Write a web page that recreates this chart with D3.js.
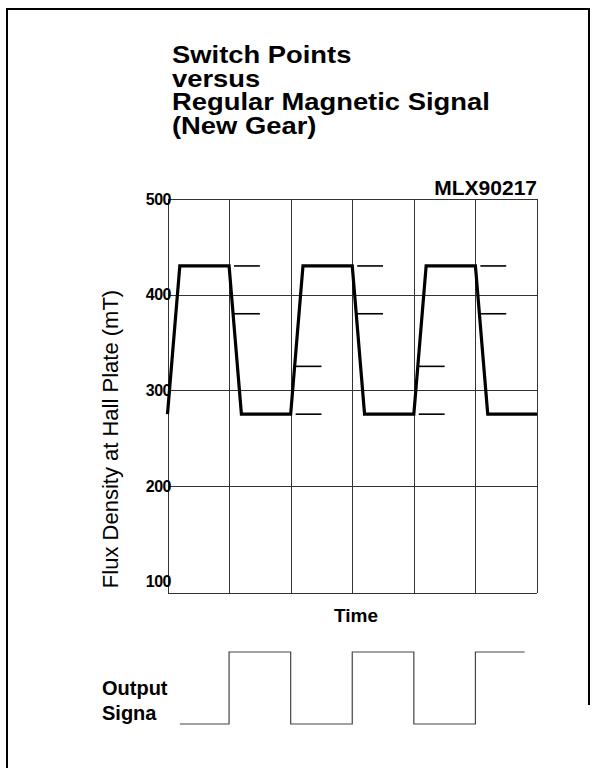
<!DOCTYPE html>
<html>
<head>
<meta charset="utf-8">
<script src="https://cdn.jsdelivr.net/npm/d3@7"></script>
<style>
  body { margin: 0; background: #fff; }
  svg { display: block; font-family: "Liberation Sans", Arial, sans-serif; }
</style>
</head>
<body>
<svg id="chart" width="597" height="768"></svg>
<script>
// title lines
const titleLines = ["Switch Points", "versus", "Regular Magnetic Signal", "(New Gear)"];

// axes
const timeGrid = [0, 1, 2, 3, 4, 5, 6];
const fluxTicks = [100, 200, 300, 400, 500];

// magnetic signal (time in gear-tooth units, flux in mT)
const signalTime = [0, 0.2, 1, 1.2, 2, 2.2, 3, 3.2, 4, 4.2, 5, 5.2, 6];
const signalFlux = [275, 430, 430, 275, 275, 430, 430, 275, 275, 430, 430, 275, 275];

// switch point marks after each edge
const switchTimes = [1, 2, 3, 4, 5];
const switchUpper = [430, 325, 430, 325, 430];
const switchLower = [380, 275, 380, 275, 380];

// output signal (0 = low, 1 = high)
const outTime = [0.2, 1, 1, 2, 2, 3, 3, 4, 4, 5, 5, 5.8];
const outLevel = [0, 0, 1, 1, 0, 0, 1, 1, 0, 0, 1, 1];

const svg = d3.select("#chart");

const x = d3.scaleLinear().domain([0, 6]).range([167.5, 537]);
const y = d3.scaleLinear().domain([88, 500]).range([593, 199]);
const yOut = d3.scaleLinear().domain([0, 1]).range([724, 652]);

// frame
svg.append("path")
  .attr("d", "M7,768 V9 H589 V705")
  .attr("fill", "none")
  .attr("stroke", "#000")
  .attr("stroke-width", 2);

// title
const title = svg.append("g").attr("font-weight", "bold").attr("font-size", 24);
titleLines.forEach((t, i) => {
  const el = title.append("text")
    .attr("x", 172)
    .attr("y", 63 + i * 23.5)
    .text(t);
  const w = el.node().getComputedTextLength();
  el.attr("textLength", w * 1.14).attr("lengthAdjust", "spacingAndGlyphs");
});

svg.append("text")
  .attr("x", 537).attr("y", 195)
  .attr("text-anchor", "end")
  .attr("font-weight", "bold")
  .attr("font-size", 21)
  .text("MLX90217");

// grid
const grid = svg.append("g").attr("stroke", "#333").attr("stroke-width", 1).attr("shape-rendering", "crispEdges");
grid.selectAll("line.v")
  .data(timeGrid)
  .join("line")
  .attr("class", "v")
  .attr("x1", d => Math.round(x(d)) + 0.5).attr("x2", d => Math.round(x(d)) + 0.5)
  .attr("y1", y(500)).attr("y2", y(88));
grid.selectAll("line.h")
  .data(fluxTicks.filter(d => d > 100).concat([88]))
  .join("line")
  .attr("class", "h")
  .attr("x1", x(0)).attr("x2", x(6))
  .attr("y1", d => Math.round(y(d)) + 0.5).attr("y2", d => Math.round(y(d)) + 0.5);

// tick labels
svg.append("g")
  .attr("font-weight", "bold")
  .attr("font-size", 16)
  .attr("text-anchor", "end")
  .selectAll("text")
  .data(fluxTicks)
  .join("text")
  .attr("x", 171)
  .attr("y", d => y(d))
  .attr("dy", "0.36em")
  .attr("letter-spacing", -0.5)
  .text(d => d);

// axis titles
svg.append("text")
  .attr("transform", "translate(118,439) rotate(-90)")
  .attr("text-anchor", "middle")
  .attr("font-size", 22)
  .text("Flux Density at Hall Plate (mT)");

svg.append("text")
  .attr("x", 356).attr("y", 622)
  .attr("text-anchor", "middle")
  .attr("font-weight", "bold")
  .attr("font-size", 19)
  .text("Time");

// signal
const line = d3.line().x(d => x(d[0])).y(d => y(d[1]));
svg.append("path")
  .datum(signalTime.map((t, i) => [t, signalFlux[i]]))
  .attr("d", line)
  .attr("fill", "none")
  .attr("stroke", "#000")
  .attr("stroke-width", 3.2)
  .attr("stroke-linejoin", "miter");

// switch points
const marks = svg.append("g").attr("stroke", "#000").attr("stroke-width", 1.6);
switchTimes.forEach((t, i) => {
  [switchUpper[i], switchLower[i]].forEach(v => {
    marks.append("line")
      .attr("x1", x(t + 0.08)).attr("x2", x(t + 0.5))
      .attr("y1", y(v)).attr("y2", y(v));
  });
});

// output signal
svg.append("path")
  .datum(outTime.map((t, i) => [t, outLevel[i]]))
  .attr("d", d3.line().x(d => x(d[0])).y(d => yOut(d[1])))
  .attr("fill", "none")
  .attr("stroke", "#444")
  .attr("stroke-width", 1.2);

const outLabel = svg.append("g").attr("font-weight", "bold").attr("font-size", 20);
outLabel.append("text").attr("x", 102).attr("y", 695).text("Output");
outLabel.append("text").attr("x", 102).attr("y", 720).text("Signa");
</script>
</body>
</html>
